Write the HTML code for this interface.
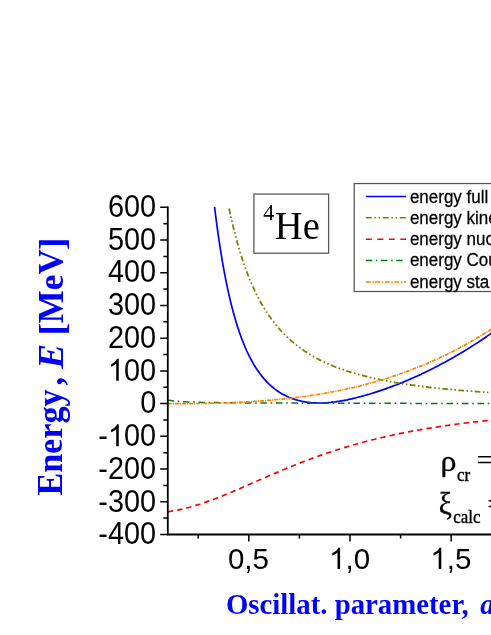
<!DOCTYPE html>
<html><head><meta charset="utf-8"><title>chart</title>
<style>html,body{margin:0;padding:0;background:#fff;overflow:hidden}body{width:491px;height:635px;position:relative;font-family:"Liberation Sans",sans-serif}</style></head>
<body>
<svg width="491" height="635" viewBox="0 0 491 635" style="position:absolute;left:0;top:0;will-change:transform">
<rect width="491" height="635" fill="#fff"/>
<g fill="none" stroke-width="1.5">
<path d="M214.6 207.0L215.3 213.0L216.8 224.6L218.3 235.4L219.8 245.5L221.3 255.0L222.8 263.8L224.3 272.1L225.8 279.9L227.3 287.2L228.8 294.1L230.3 300.5L231.8 306.6L233.3 312.3L234.8 317.6L236.3 322.7L237.8 327.5L239.3 332.0L240.8 336.2L242.3 340.2L243.8 344.0L245.3 347.6L246.8 351.0L248.3 354.2L249.8 357.2L251.3 360.0L252.8 362.7L254.3 365.3L255.8 367.7L257.3 370.0L258.8 372.1L260.3 374.2L261.8 376.1L263.3 377.9L264.8 379.7L266.3 381.3L267.8 382.8L269.3 384.3L270.8 385.7L272.3 387.0L273.8 388.2L275.3 389.4L276.8 390.5L278.3 391.5L279.8 392.5L281.3 393.4L282.8 394.2L284.3 395.0L285.8 395.8L287.3 396.5L288.8 397.2L290.3 397.8L291.8 398.4L293.3 398.9L294.8 399.4L296.3 399.9L297.8 400.3L299.3 400.7L300.8 401.0L302.3 401.4L303.8 401.6L305.3 401.9L306.8 402.1L308.3 402.3L309.8 402.5L311.3 402.7L312.8 402.8L314.3 402.9L315.8 402.9L317.3 403.0L318.8 403.0L320.3 403.0L321.8 403.0L323.3 402.9L324.8 402.9L326.3 402.8L327.8 402.7L329.3 402.5L330.8 402.4L332.3 402.2L333.8 402.0L335.3 401.9L336.8 401.6L338.3 401.4L339.8 401.2L341.3 400.9L342.8 400.6L344.3 400.4L345.8 400.1L347.3 399.8L348.8 399.4L350.3 399.1L351.8 398.8L353.3 398.4L354.8 398.1L356.3 397.7L357.8 397.3L359.3 396.9L360.8 396.5L362.3 396.1L363.8 395.7L365.3 395.3L366.8 394.9L368.3 394.4L369.8 394.0L371.3 393.5L372.8 393.1L374.3 392.6L375.8 392.1L377.3 391.6L378.8 391.1L380.3 390.6L381.8 390.1L383.3 389.6L384.8 389.1L386.3 388.6L387.8 388.0L389.3 387.5L390.8 386.9L392.3 386.4L393.8 385.8L395.3 385.2L396.8 384.7L398.3 384.1L399.8 383.5L401.3 382.9L402.8 382.2L404.3 381.6L405.8 381.0L407.3 380.4L408.8 379.7L410.3 379.1L411.8 378.4L413.3 377.8L414.8 377.1L416.3 376.4L417.8 375.7L419.3 375.1L420.8 374.4L422.3 373.6L423.8 372.9L425.3 372.2L426.8 371.5L428.3 370.8L429.8 370.0L431.3 369.3L432.8 368.5L434.3 367.8L435.8 367.0L437.3 366.2L438.8 365.4L440.3 364.6L441.8 363.8L443.3 363.0L444.8 362.2L446.3 361.4L447.8 360.6L449.3 359.7L450.8 358.9L452.3 358.0L453.8 357.2L455.3 356.3L456.8 355.5L458.3 354.6L459.8 353.7L461.3 352.8L462.8 351.9L464.3 351.0L465.8 350.1L467.3 349.1L468.8 348.2L470.3 347.3L471.8 346.3L473.3 345.4L474.8 344.4L476.3 343.4L477.8 342.5L479.3 341.5L480.8 340.5L482.3 339.5L483.8 338.5L485.3 337.5L486.8 336.4L488.3 335.4L489.8 334.4L491.3 333.3L492.8 332.2" stroke="#0000ff" stroke-width="1.7"/>
<path d="M229.1 208.5L231.1 217.7L233.1 226.3L235.1 234.3L237.1 241.8L239.1 248.8L241.1 255.4L243.1 261.5L245.1 267.3L247.1 272.7L249.1 277.8L251.1 282.6L253.1 287.2L255.1 291.5L257.1 295.5L259.1 299.4L261.1 303.0L263.1 306.5L265.1 309.7L267.1 312.9L269.1 315.8L271.1 318.6L273.1 321.3L275.1 323.9L277.1 326.3L279.1 328.7L281.1 330.9L283.1 333.0L285.1 335.1L287.1 337.0L289.1 338.9L291.1 340.7L293.1 342.4L295.1 344.0L297.1 345.6L299.1 347.1L301.1 348.6L303.1 350.0L305.1 351.4L307.1 352.7L309.1 353.9L311.1 355.1L313.1 356.3L315.1 357.4L317.1 358.5L319.1 359.6L321.1 360.6L323.1 361.5L325.1 362.5L327.1 363.4L329.1 364.3L331.1 365.1L333.1 366.0L335.1 366.8L337.1 367.5L339.1 368.3L341.1 369.0L343.1 369.7L345.1 370.4L347.1 371.1L349.1 371.7L351.1 372.3L353.1 372.9L355.1 373.5L357.1 374.1L359.1 374.6L361.1 375.2L363.1 375.7L365.1 376.2L367.1 376.7L369.1 377.2L371.1 377.7L373.1 378.1L375.1 378.6L377.1 379.0L379.1 379.4L381.1 379.8L383.1 380.2L385.1 380.6L387.1 381.0L389.1 381.4L391.1 381.8L393.1 382.1L395.1 382.5L397.1 382.8L399.1 383.1L401.1 383.5L403.1 383.8L405.1 384.1L407.1 384.4L409.1 384.7L411.1 385.0L413.1 385.2L415.1 385.5L417.1 385.8L419.1 386.0L421.1 386.3L423.1 386.5L425.1 386.8L427.1 387.0L429.1 387.3L431.1 387.5L433.1 387.7L435.1 387.9L437.1 388.2L439.1 388.4L441.1 388.6L443.1 388.8L445.1 389.0L447.1 389.2L449.1 389.4L451.1 389.5L453.1 389.7L455.1 389.9L457.1 390.1L459.1 390.3L461.1 390.4L463.1 390.6L465.1 390.8L467.1 390.9L469.1 391.1L471.1 391.2L473.1 391.4L475.1 391.5L477.1 391.7L479.1 391.8L481.1 392.0L483.1 392.1L485.1 392.2L487.1 392.4L489.1 392.5L491.1 392.6L493.1 392.8" stroke="#808000" stroke-width="1.8" stroke-dasharray="5.6 2.5 1.6 2.5 1.6 2.5"/>
<path d="M167.8 511.8L169.8 511.5L171.8 511.2L173.8 510.8L175.8 510.5L177.8 510.1L179.8 509.6L181.8 509.2L183.8 508.7L185.8 508.2L187.8 507.7L189.8 507.2L191.8 506.6L193.8 506.0L195.8 505.4L197.8 504.8L199.8 504.2L201.8 503.5L203.8 502.8L205.8 502.1L207.8 501.4L209.8 500.7L211.8 500.0L213.8 499.2L215.8 498.5L217.8 497.7L219.8 496.9L221.8 496.1L223.8 495.3L225.8 494.5L227.8 493.7L229.8 492.8L231.8 492.0L233.8 491.1L235.8 490.3L237.8 489.4L239.8 488.6L241.8 487.7L243.8 486.8L245.8 486.0L247.8 485.1L249.8 484.2L251.8 483.3L253.8 482.5L255.8 481.6L257.8 480.7L259.8 479.8L261.8 479.0L263.8 478.1L265.8 477.2L267.8 476.3L269.8 475.5L271.8 474.6L273.8 473.8L275.8 472.9L277.8 472.1L279.8 471.2L281.8 470.4L283.8 469.5L285.8 468.7L287.8 467.9L289.8 467.1L291.8 466.3L293.8 465.5L295.8 464.7L297.8 463.9L299.8 463.1L301.8 462.3L303.8 461.5L305.8 460.8L307.8 460.0L309.8 459.3L311.8 458.5L313.8 457.8L315.8 457.1L317.8 456.3L319.8 455.6L321.8 454.9L323.8 454.2L325.8 453.5L327.8 452.9L329.8 452.2L331.8 451.5L333.8 450.9L335.8 450.2L337.8 449.6L339.8 449.0L341.8 448.3L343.8 447.7L345.8 447.1L347.8 446.5L349.8 445.9L351.8 445.4L353.8 444.8L355.8 444.2L357.8 443.7L359.8 443.1L361.8 442.6L363.8 442.0L365.8 441.5L367.8 441.0L369.8 440.5L371.8 440.0L373.8 439.5L375.8 439.0L377.8 438.5L379.8 438.0L381.8 437.5L383.8 437.1L385.8 436.6L387.8 436.2L389.8 435.7L391.8 435.3L393.8 434.8L395.8 434.4L397.8 434.0L399.8 433.6L401.8 433.2L403.8 432.8L405.8 432.4L407.8 432.0L409.8 431.6L411.8 431.2L413.8 430.9L415.8 430.5L417.8 430.1L419.8 429.8L421.8 429.4L423.8 429.1L425.8 428.8L427.8 428.4L429.8 428.1L431.8 427.8L433.8 427.5L435.8 427.1L437.8 426.8L439.8 426.5L441.8 426.2L443.8 425.9L445.8 425.6L447.8 425.4L449.8 425.1L451.8 424.8L453.8 424.5L455.8 424.3L457.8 424.0L459.8 423.7L461.8 423.5L463.8 423.2L465.8 423.0L467.8 422.7L469.8 422.5L471.8 422.3L473.8 422.0L475.8 421.8L477.8 421.6L479.8 421.3L481.8 421.1L483.8 420.9L485.8 420.7L487.8 420.5L489.8 420.3L491.8 420.1L493.8 419.9" stroke="#ff0000" stroke-width="1.7" stroke-dasharray="5.4 4"/>
<path d="M167.6 400.1L170.6 400.5L173.6 400.9L176.6 401.2L179.6 401.4L182.6 401.6L185.6 401.8L188.6 401.9L191.6 402.0L194.6 402.1L197.6 402.2L200.6 402.3L203.6 402.4L206.6 402.4L209.6 402.5L212.6 402.5L215.6 402.6L218.6 402.6L221.6 402.7L224.6 402.7L227.6 402.7L230.6 402.8L233.6 402.8L236.6 402.8L239.6 402.8L242.6 402.9L245.6 402.9L248.6 402.9L251.6 402.9L254.6 403.0L257.6 403.0L260.6 403.0L263.6 403.0L266.6 403.0L269.6 403.0L272.6 403.1L275.6 403.1L278.6 403.1L281.6 403.1L284.6 403.1L287.6 403.1L290.6 403.1L293.6 403.1L296.6 403.1L299.6 403.2L302.6 403.2L305.6 403.2L308.6 403.2L311.6 403.2L314.6 403.2L317.6 403.2L320.6 403.2L323.6 403.2L326.6 403.2L329.6 403.2L332.6 403.2L335.6 403.2L338.6 403.2L341.6 403.3L344.6 403.3L347.6 403.3L350.6 403.3L353.6 403.3L356.6 403.3L359.6 403.3L362.6 403.3L365.6 403.3L368.6 403.3L371.6 403.3L374.6 403.3L377.6 403.3L380.6 403.3L383.6 403.3L386.6 403.3L389.6 403.3L392.6 403.3L395.6 403.3L398.6 403.3L401.6 403.3L404.6 403.3L407.6 403.3L410.6 403.4L413.6 403.4L416.6 403.4L419.6 403.4L422.6 403.4L425.6 403.4L428.6 403.4L431.6 403.4L434.6 403.4L437.6 403.4L440.6 403.4L443.6 403.4L446.6 403.4L449.6 403.4L452.6 403.4L455.6 403.4L458.6 403.4L461.6 403.4L464.6 403.4L467.6 403.4L470.6 403.4L473.6 403.4L476.6 403.4L479.6 403.4L482.6 403.4L485.6 403.4L488.6 403.4L491.6 403.4" stroke="#008000" stroke-dasharray="6.5 3.7 1.6 3.7"/>
<path d="M167.8 403.7L169.8 403.7L171.8 403.7L173.8 403.7L175.8 403.7L177.8 403.7L179.8 403.7L181.8 403.7L183.8 403.7L185.8 403.6L187.8 403.6L189.8 403.6L191.8 403.6L193.8 403.6L195.8 403.5L197.8 403.5L199.8 403.5L201.8 403.4L203.8 403.4L205.8 403.4L207.8 403.3L209.8 403.3L211.8 403.2L213.8 403.2L215.8 403.1L217.8 403.1L219.8 403.0L221.8 403.0L223.8 402.9L225.8 402.8L227.8 402.8L229.8 402.7L231.8 402.6L233.8 402.5L235.8 402.4L237.8 402.3L239.8 402.2L241.8 402.1L243.8 402.0L245.8 401.9L247.8 401.8L249.8 401.7L251.8 401.6L253.8 401.5L255.8 401.3L257.8 401.2L259.8 401.0L261.8 400.9L263.8 400.8L265.8 400.6L267.8 400.4L269.8 400.3L271.8 400.1L273.8 399.9L275.8 399.7L277.8 399.5L279.8 399.4L281.8 399.2L283.8 398.9L285.8 398.7L287.8 398.5L289.8 398.3L291.8 398.1L293.8 397.8L295.8 397.6L297.8 397.3L299.8 397.1L301.8 396.8L303.8 396.5L305.8 396.3L307.8 396.0L309.8 395.7L311.8 395.4L313.8 395.1L315.8 394.8L317.8 394.5L319.8 394.1L321.8 393.8L323.8 393.5L325.8 393.1L327.8 392.8L329.8 392.4L331.8 392.0L333.8 391.6L335.8 391.2L337.8 390.8L339.8 390.4L341.8 390.0L343.8 389.6L345.8 389.2L347.8 388.7L349.8 388.3L351.8 387.8L353.8 387.4L355.8 386.9L357.8 386.4L359.8 385.9L361.8 385.4L363.8 384.9L365.8 384.4L367.8 383.8L369.8 383.3L371.8 382.7L373.8 382.2L375.8 381.6L377.8 381.0L379.8 380.4L381.8 379.8L383.8 379.2L385.8 378.6L387.8 378.0L389.8 377.3L391.8 376.7L393.8 376.0L395.8 375.4L397.8 374.7L399.8 374.0L401.8 373.3L403.8 372.6L405.8 371.8L407.8 371.1L409.8 370.4L411.8 369.6L413.8 368.8L415.8 368.0L417.8 367.2L419.8 366.4L421.8 365.6L423.8 364.8L425.8 364.0L427.8 363.1L429.8 362.2L431.8 361.4L433.8 360.5L435.8 359.6L437.8 358.7L439.8 357.7L441.8 356.8L443.8 355.8L445.8 354.9L447.8 353.9L449.8 352.9L451.8 351.9L453.8 350.9L455.8 349.9L457.8 348.8L459.8 347.8L461.8 346.7L463.8 345.6L465.8 344.5L467.8 343.4L469.8 342.3L471.8 341.1L473.8 340.0L475.8 338.8L477.8 337.6L479.8 336.5L481.8 335.3L483.8 334.0L485.8 332.8L487.8 331.5L489.8 330.3L491.8 329.0L493.8 327.7" stroke="#ff8000" stroke-width="1.7" stroke-dasharray="4 1 1.1 1"/>
</g>
<path d="M167.8 206.6 V534.5 H491" stroke="#000" stroke-width="1.8" fill="none" stroke-linejoin="miter"/>
<path d="M160.2 207.3 H167.8M163.4 223.7 H167.8M160.2 240.0 H167.8M163.4 256.4 H167.8M160.2 272.7 H167.8M163.4 289.1 H167.8M160.2 305.5 H167.8M163.4 321.8 H167.8M160.2 338.2 H167.8M163.4 354.5 H167.8M160.2 370.9 H167.8M163.4 387.3 H167.8M160.2 403.6 H167.8M163.4 420.0 H167.8M160.2 436.3 H167.8M163.4 452.7 H167.8M160.2 469.1 H167.8M163.4 485.4 H167.8M160.2 501.8 H167.8M163.4 518.1 H167.8M160.2 534.5 H167.8M198.2 534.5 V538.4M248.8 534.5 V541.5M299.4 534.5 V538.4M350.0 534.5 V541.5M400.6 534.5 V538.4M451.2 534.5 V541.5" stroke="#000" stroke-width="1.5" fill="none"/>
<text transform="translate(107.98 216.95) scale(1.0000 1.0550)" font-family="'Liberation Sans', sans-serif" font-size="28.90" fill="#000" text-anchor="start" >600</text>
<text transform="translate(107.98 249.70) scale(1.0000 1.0550)" font-family="'Liberation Sans', sans-serif" font-size="28.90" fill="#000" text-anchor="start" >500</text>
<text transform="translate(107.98 282.44) scale(1.0000 1.0550)" font-family="'Liberation Sans', sans-serif" font-size="28.90" fill="#000" text-anchor="start" >400</text>
<text transform="translate(107.98 315.19) scale(1.0000 1.0550)" font-family="'Liberation Sans', sans-serif" font-size="28.90" fill="#000" text-anchor="start" >300</text>
<text transform="translate(107.98 347.93) scale(1.0000 1.0550)" font-family="'Liberation Sans', sans-serif" font-size="28.90" fill="#000" text-anchor="start" >200</text>
<path transform="translate(107.98 380.68) scale(0.01411 -0.01489)" d="M763 0L583 0L583 1147Q518 1085 412.5 1023Q307 961 223 930L223 1104Q374 1175 487 1276Q600 1377 647 1472L763 1472Z" fill="#000"/>
<text transform="translate(124.05 380.68) scale(1.0000 1.0550)" font-family="'Liberation Sans', sans-serif" font-size="28.90" fill="#000" text-anchor="start" >00</text>
<text transform="translate(140.13 413.42) scale(1.0000 1.0550)" font-family="'Liberation Sans', sans-serif" font-size="28.90" fill="#000" text-anchor="start" >0</text>
<text transform="translate(98.35 446.17) scale(1.0000 1.0550)" font-family="'Liberation Sans', sans-serif" font-size="28.90" fill="#000" text-anchor="start" >-</text>
<path transform="translate(107.98 446.17) scale(0.01411 -0.01489)" d="M763 0L583 0L583 1147Q518 1085 412.5 1023Q307 961 223 930L223 1104Q374 1175 487 1276Q600 1377 647 1472L763 1472Z" fill="#000"/>
<text transform="translate(124.05 446.17) scale(1.0000 1.0550)" font-family="'Liberation Sans', sans-serif" font-size="28.90" fill="#000" text-anchor="start" >00</text>
<text transform="translate(98.35 478.91) scale(1.0000 1.0550)" font-family="'Liberation Sans', sans-serif" font-size="28.90" fill="#000" text-anchor="start" >-200</text>
<text transform="translate(98.35 511.66) scale(1.0000 1.0550)" font-family="'Liberation Sans', sans-serif" font-size="28.90" fill="#000" text-anchor="start" >-300</text>
<text transform="translate(98.35 544.40) scale(1.0000 1.0550)" font-family="'Liberation Sans', sans-serif" font-size="28.90" fill="#000" text-anchor="start" >-400</text>
<text transform="translate(227.91 569.00)" font-family="'Liberation Sans', sans-serif" font-size="29.48" fill="#000" text-anchor="start" >0,5</text>
<path transform="translate(329.11 569.00) scale(0.01439 -0.01439)" d="M763 0L583 0L583 1147Q518 1085 412.5 1023Q307 961 223 930L223 1104Q374 1175 487 1276Q600 1377 647 1472L763 1472Z" fill="#000"/>
<text transform="translate(345.50 569.00)" font-family="'Liberation Sans', sans-serif" font-size="29.48" fill="#000" text-anchor="start" >,0</text>
<path transform="translate(430.31 569.00) scale(0.01439 -0.01439)" d="M763 0L583 0L583 1147Q518 1085 412.5 1023Q307 961 223 930L223 1104Q374 1175 487 1276Q600 1377 647 1472L763 1472Z" fill="#000"/>
<text transform="translate(446.70 569.00)" font-family="'Liberation Sans', sans-serif" font-size="29.48" fill="#000" text-anchor="start" >,5</text>
<rect x="253.9" y="194.1" width="74.7" height="59.1" fill="#fff" stroke="#555" stroke-width="1.25"/>
<text transform="translate(263.20 220.40) scale(1.0000 1.0800)" font-family="'Liberation Serif', serif" font-size="22.00" fill="#000" text-anchor="start" >4</text>
<text transform="translate(274.80 239.30) scale(1.0000 1.0150)" font-family="'Liberation Serif', serif" font-size="38.60" fill="#000" text-anchor="start" >He</text>
<rect x="354.2" y="183.55" width="160" height="107.95" fill="#fff" stroke="#555" stroke-width="1.25"/>
<path d="M365.8 196.5 H406.1" stroke="#0000ff" stroke-width="1.5" fill="none" stroke-dasharray=""/>
<text transform="translate(409.90 202.70) scale(1.0000 1.0900)" font-family="'Liberation Sans', sans-serif" font-size="17.00" fill="#000" text-anchor="start" stroke="#000" stroke-width="0.25">energy full</text>
<path d="M365.8 217.7 H406.1" stroke="#808000" stroke-width="1.5" fill="none" stroke-dasharray="6 2.6 1.5 2.7 1.5 2.7"/>
<text transform="translate(409.90 223.92) scale(1.0000 1.0900)" font-family="'Liberation Sans', sans-serif" font-size="17.00" fill="#000" text-anchor="start" stroke="#000" stroke-width="0.25">energy kinetic</text>
<path d="M365.8 239.2 H406.1" stroke="#ff0000" stroke-width="1.5" fill="none" stroke-dasharray="6 5.5"/>
<text transform="translate(409.90 245.14) scale(1.0000 1.0900)" font-family="'Liberation Sans', sans-serif" font-size="17.00" fill="#000" text-anchor="start" stroke="#000" stroke-width="0.25">energy nuclear</text>
<path d="M365.8 260.5 H406.1" stroke="#008000" stroke-width="1.5" fill="none" stroke-dasharray="6.5 3.6 1.5 3.6"/>
<text transform="translate(409.90 266.36) scale(1.0000 1.0900)" font-family="'Liberation Sans', sans-serif" font-size="17.00" fill="#000" text-anchor="start" stroke="#000" stroke-width="0.25">energy Coulomb</text>
<path d="M365.8 281.9 H406.1" stroke="#ff8000" stroke-width="1.5" fill="none" stroke-dasharray="5 1.5 1.5 1.5"/>
<text transform="translate(409.90 287.58) scale(1.0000 1.0900)" font-family="'Liberation Sans', sans-serif" font-size="17.00" fill="#000" text-anchor="start" stroke="#000" stroke-width="0.25">energy sta</text>
<text transform="translate(440.50 471.20) scale(1.0000 0.9300)" font-family="'Liberation Serif', serif" font-size="32.00" fill="#000" text-anchor="start" stroke="#000" stroke-width="0.35">ρ</text>
<text transform="translate(456.90 481.00) scale(1.0000 1.0500)" font-family="'Liberation Serif', serif" font-size="17.00" fill="#000" text-anchor="start" stroke="#000" stroke-width="0.35">cr</text>
<text transform="translate(476.40 470.00) scale(1.0000 1.0500)" font-family="'Liberation Serif', serif" font-size="28.00" fill="#000" text-anchor="start" >=</text>
<text transform="translate(438.80 514.30) scale(1.0000 1.0500)" font-family="'Liberation Serif', serif" font-size="29.40" fill="#000" text-anchor="start" stroke="#000" stroke-width="0.35">ξ</text>
<text transform="translate(453.20 522.90) scale(1.0000 1.0800)" font-family="'Liberation Serif', serif" font-size="17.00" fill="#000" text-anchor="start" stroke="#000" stroke-width="0.35">calc</text>
<text transform="translate(487.30 514.40) scale(1.0000 1.0500)" font-family="'Liberation Serif', serif" font-size="28.00" fill="#000" text-anchor="start" >=</text>
<text transform="translate(225.90 614.30) scale(1.0000 1.0100)" font-family="'Liberation Serif', serif" font-size="28.80" fill="#0000ff" text-anchor="start" font-weight="bold" xml:space="preserve">Oscillat. parameter,  <tspan font-style="italic" dx="-2.8">a</tspan></text>
<text transform="translate(62.40 495.60) rotate(-90) scale(0.9370 1.0000)" font-family="'Liberation Serif', serif" font-size="36.40" fill="#0000ff" text-anchor="start" font-weight="bold">Energy</text>
<text transform="translate(62.40 385.40) rotate(-90) scale(0.9370 1.0000)" font-family="'Liberation Serif', serif" font-size="36.40" fill="#0000ff" text-anchor="start" font-weight="bold">,</text>
<text transform="translate(62.70 368.70) rotate(-90) scale(1.0430 1.0000)" font-family="'Liberation Serif', serif" font-size="35.80" fill="#0000ff" text-anchor="start" font-weight="bold"><tspan font-style="italic">E</tspan></text>
<text transform="translate(63.60 335.80) rotate(-90) scale(1.0800 1.0000)" font-family="'Liberation Serif', serif" font-size="36.20" fill="#0000ff" text-anchor="start" font-weight="bold">[</text>
<text transform="translate(62.70 323.20) rotate(-90) scale(0.9870 1.0000)" font-family="'Liberation Serif', serif" font-size="35.50" fill="#0000ff" text-anchor="start" font-weight="bold">MeV</text>
<text transform="translate(63.60 250.20) rotate(-90) scale(1.0800 1.0000)" font-family="'Liberation Serif', serif" font-size="36.20" fill="#0000ff" text-anchor="start" font-weight="bold">]</text>
</svg>
</body></html>
